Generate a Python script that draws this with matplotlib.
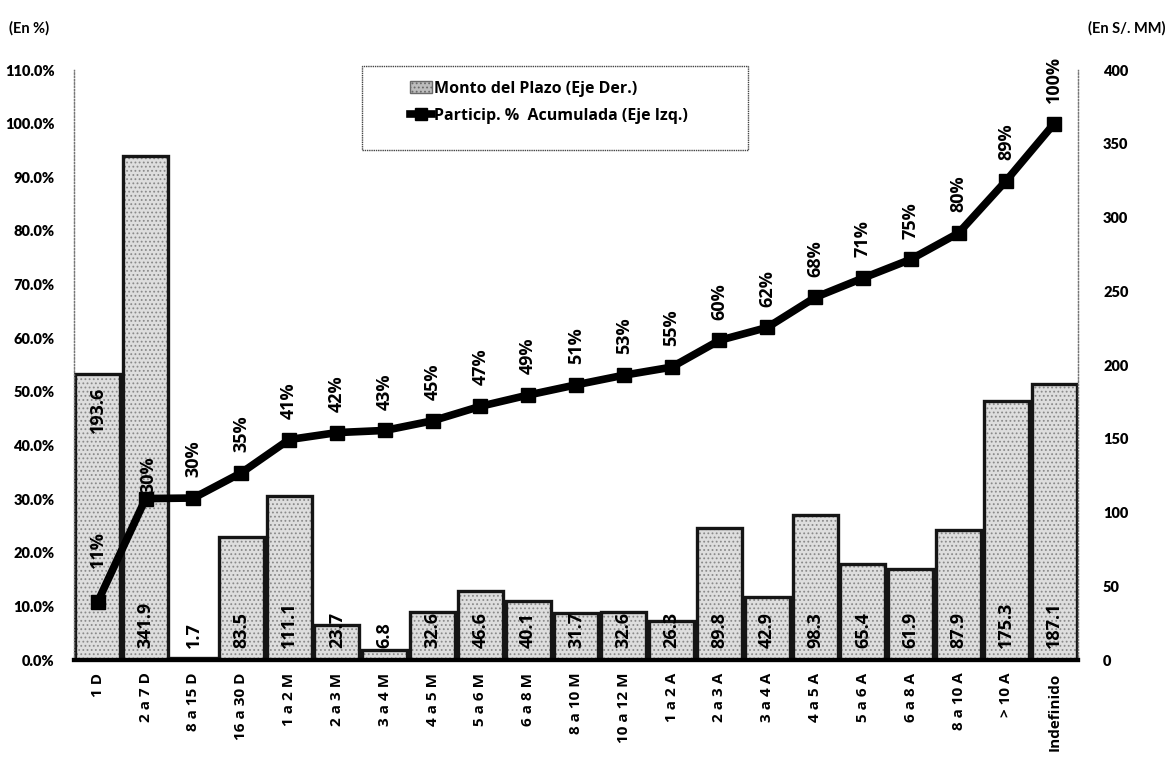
import matplotlib
matplotlib.use("Agg")
import matplotlib.pyplot as plt
from matplotlib.lines import Line2D
from matplotlib.patches import Patch, Rectangle
import numpy as np

plt.rcParams["font.family"] = ["Open Sans", "DejaVu Sans"]
plt.rcParams["hatch.linewidth"] = 0.8

# Plazos (categorías del eje X)
plazos = ["1 D", "2 a 7 D", "8 a 15 D", "16 a 30 D", "1 a 2 M", "2 a 3 M",
          "3 a 4 M", "4 a 5 M", "5 a 6 M", "6 a 8 M", "8 a 10 M", "10 a 12 M",
          "1 a 2 A", "2 a 3 A", "3 a 4 A", "4 a 5 A", "5 a 6 A", "6 a 8 A",
          "8 a 10 A", "> 10 A", "Indefinido"]

# Monto por plazo (S/. MM, eje derecho)
monto = [193.6, 341.9, 1.7, 83.5, 111.1, 23.7, 6.8, 32.6, 46.6, 40.1, 31.7,
         32.6, 26.3, 89.8, 42.9, 98.3, 65.4, 61.9, 87.9, 175.3, 187.1]

# Participación porcentual acumulada (%, eje izquierdo)
acumulada = [10.9, 30.1, 30.2, 34.9, 41.1, 42.4, 42.8, 44.6, 47.3, 49.4, 51.3,
             53.1, 54.6, 59.6, 62.0, 67.6, 71.2, 74.7, 79.6, 89.4, 100.0]

left_ticks = [0, 10, 20, 30, 40, 50, 60, 70, 80, 90, 100, 110]
right_ticks = [0, 50, 100, 150, 200, 250, 300, 350, 400]

fig = plt.figure(figsize=(11.70, 7.61), dpi=100)
ax = fig.add_axes([0.0632, 0.1327, 0.8582, 0.7753])
ax2 = ax.twinx()

x = np.arange(len(plazos))

# --- barras (eje derecho) ---
bar_face = "#dedede"
ax2.bar(x, monto, width=0.94, color=bar_face, hatch="....",
        edgecolor="#8a8a8a", linewidth=0, zorder=1)
ax2.bar(x, monto, width=0.94, fill=False, edgecolor="#151515",
        linewidth=2.4, zorder=2)
ax2.set_ylim(0, 400)
ax2.set_yticks(right_ticks)
ax2.set_yticklabels([str(t) for t in right_ticks], fontsize=10.5,
                    fontweight="heavy", family=["Lato", "DejaVu Sans"])

for i, v in enumerate(monto):
    if i == 0:
        ax2.annotate(f"{v:.1f}", (i, v), xytext=(0, -9), textcoords="offset points",
                     rotation=90, ha="center", va="top", fontsize=13,
                     fontweight="bold", zorder=5)
    else:
        ax2.annotate(f"{v:.1f}", (i, 0), xytext=(0, 9), textcoords="offset points",
                     rotation=90, ha="center", va="bottom", fontsize=13,
                     fontweight="bold", zorder=5)

# --- línea acumulada (eje izquierdo) ---
ax.set_zorder(ax2.get_zorder() + 1)
ax.patch.set_visible(False)
ax.plot(x, acumulada, color="black", linewidth=5.5, marker="s",
        markersize=10, zorder=4)
ax.set_ylim(0, 110)
ax.set_yticks(left_ticks)
ax.set_yticklabels([f"{t:.1f}%" for t in left_ticks], fontsize=10.5,
                   fontweight="heavy", family=["Lato", "DejaVu Sans"])

for i, v in enumerate(acumulada):
    if i == 0:
        off, dx = 24, 0
    elif i == 1:
        off, dx = 4, 2
    else:
        off, dx = 15, 0
    ax.annotate(f"{round(v):d}%", (i, v), xytext=(dx, off), textcoords="offset points",
                rotation=90, ha="center", va="bottom", fontsize=13,
                fontweight="bold", zorder=6)

ax.set_xlim(-0.5, len(plazos) - 0.5)
ax.set_xticks(x)
ax.set_xticklabels(plazos, rotation=90, fontsize=11, fontweight="bold",
                   va="top", ha="center")

for a in (ax, ax2):
    a.tick_params(length=0)
    a.spines["top"].set_visible(False)
    for side in ("left", "right"):
        a.spines[side].set_linestyle(":")
        a.spines[side].set_color("#777777")
        a.spines[side].set_linewidth(0.9)
    a.spines["bottom"].set_color("black")
    a.spines["bottom"].set_linewidth(3)
ax.tick_params(axis="y", pad=14)
ax2.tick_params(axis="y", pad=18)
ax.tick_params(axis="x", pad=9)

# --- leyenda ---
frame = Rectangle((0.287, 0.864), 0.384, 0.143, transform=ax.transAxes,
                  fill=True, facecolor="white", edgecolor="#444444",
                  linewidth=1.0, linestyle=(0, (1, 0.6)), clip_on=False, zorder=7)
ax.add_patch(frame)
handles = [
    Patch(facecolor="#bdbdbd", hatch="....", edgecolor="#6a6a6a",
          label="Monto del Plazo (Eje Der.)"),
    Line2D([0], [0], color="black", linewidth=5.5, marker="s", markersize=9,
           label="Particip. %  Acumulada (Eje Izq.)"),
]
leg = ax.legend(handles=handles, loc="upper left", bbox_to_anchor=(0.328, 0.993),
                frameon=False, fontsize=11.5, handlelength=1.4, handletextpad=0.1,
                labelspacing=0.7, borderaxespad=0)
for t in leg.get_texts():
    t.set_fontweight("bold")
leg.set_zorder(8)

fig.text(0.008, 0.963, "(En %)", fontsize=10.5, fontweight="bold",
         ha="left", va="center", family=["Lato", "DejaVu Sans"])
fig.text(0.996, 0.963, "(En S/. MM)", fontsize=10.5, fontweight="bold",
         ha="right", va="center", family=["Lato", "DejaVu Sans"])

fig.savefig("out.png", dpi=100, facecolor="white")
